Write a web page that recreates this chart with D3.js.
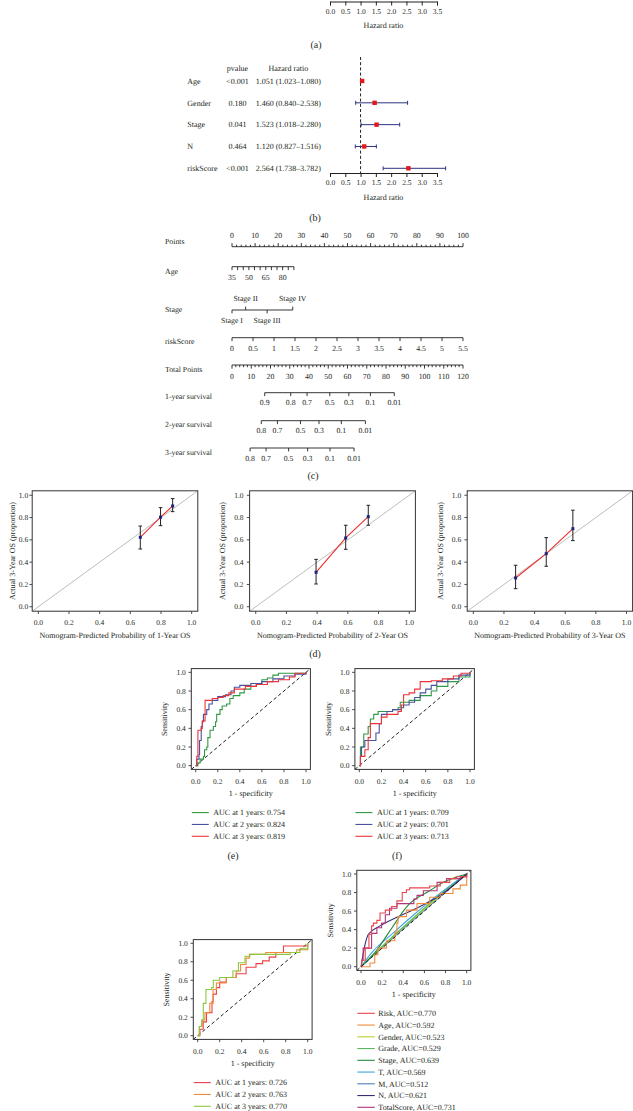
<!DOCTYPE html>
<html><head><meta charset="utf-8">
<script src="https://cdn.jsdelivr.net/npm/d3@7"></script>
<style>
body{margin:0;background:#fff;}
svg{display:block;font-family:"Liberation Serif","DejaVu Serif","Times New Roman",serif;text-rendering:geometricPrecision;-webkit-font-smoothing:antialiased;}
</style></head><body>
<svg id="c" width="633" height="1111"></svg>
<script>
// ---------------- DATA ----------------
const hrTicks = [0, 0.5, 1, 1.5, 2, 2.5, 3, 3.5];
const forestVars = ["Age", "Gender", "Stage", "N", "riskScore"];
const forestP = ["<0.001", "0.180", "0.041", "0.464", "<0.001"];
const forestHR = [1.051, 1.460, 1.523, 1.120, 2.564];
const forestLo = [1.023, 0.840, 1.018, 0.827, 1.738];
const forestHi = [1.080, 2.538, 2.280, 1.516, 3.782];

const pointsTicks = d3.range(0, 101, 10);
const ageTickLabels = [35, 50, 65, 80];
const ageRange = [35, 90];
const agePointsMax = 26.8;
const stageCats = ["Stage I", "Stage II", "Stage III", "Stage IV"];
const stagePoints = [0, 5.9, 15.2, 26.3];
const riskTicks = [0, 0.5, 1, 1.5, 2, 2.5, 3, 3.5, 4, 4.5, 5, 5.5];
const riskMax = 5.5;
const totalTicks = d3.range(0, 121, 10);
const surv1Labels = ["0.9", "0.8", "0.7", "0.5", "0.3", "0.1", "0.01"];
const surv1Total = [17.0, 30.5, 39.0, 50.8, 60.7, 71.9, 84.3];
const surv2Labels = ["0.8", "0.7", "0.5", "0.3", "0.1", "0.01"];
const surv2Total = [15.2, 23.6, 35.6, 45.2, 56.8, 69.3];
const surv3Labels = ["0.8", "0.7", "0.5", "0.3", "0.1", "0.01"];
const surv3Total = [9.4, 17.7, 29.4, 39.3, 50.9, 63.4];

const calTicks = [0, 0.2, 0.4, 0.6, 0.8, 1.0];
const cal1Pred = [0.665, 0.797, 0.876], cal1Obs = [0.623, 0.803, 0.904], cal1Lo = [0.518, 0.727, 0.853], cal1Hi = [0.724, 0.889, 0.970];
const cal2Pred = [0.393, 0.586, 0.733], cal2Obs = [0.309, 0.617, 0.808], cal2Lo = [0.204, 0.515, 0.731], cal2Hi = [0.425, 0.731, 0.910];
const cal3Pred = [0.276, 0.476, 0.650], cal3Obs = [0.258, 0.476, 0.700], cal3Lo = [0.162, 0.363, 0.593], cal3Hi = [0.372, 0.620, 0.866];

// ROC (e)
const rocE1 = [[0,0],[0.02,0.03],[0.04,0.07],[0.07,0.1],[0.08,0.17],[0.1,0.2],[0.11,0.3],[0.13,0.38],[0.16,0.42],[0.18,0.47],[0.19,0.55],[0.22,0.6],[0.24,0.64],[0.28,0.66],[0.31,0.72],[0.34,0.75],[0.4,0.78],[0.44,0.82],[0.5,0.85],[0.55,0.88],[0.6,0.92],[0.65,0.94],[0.7,0.97],[0.75,0.99],[1,1]];
const rocE2 = [[0,0],[0.01,0.07],[0.03,0.12],[0.035,0.27],[0.05,0.42],[0.06,0.47],[0.07,0.55],[0.1,0.6],[0.12,0.66],[0.15,0.7],[0.2,0.74],[0.27,0.76],[0.32,0.8],[0.35,0.84],[0.4,0.86],[0.5,0.88],[0.6,0.9],[0.7,0.93],[0.8,0.96],[0.9,0.98],[1,1]];
const rocE3 = [[0,0],[0.01,0.1],[0.02,0.38],[0.05,0.4],[0.06,0.48],[0.085,0.7],[0.15,0.72],[0.2,0.73],[0.25,0.75],[0.3,0.78],[0.35,0.82],[0.45,0.85],[0.55,0.87],[0.65,0.9],[0.75,0.92],[0.85,0.95],[0.9,0.99],[1,1]];
const rocELabels = ["AUC at 1 years: 0.754", "AUC at 2 years: 0.824", "AUC at 3 years: 0.819"];
// ROC (f)
const rocF1 = [[0,0],[0.01,0.2],[0.04,0.34],[0.08,0.42],[0.1,0.5],[0.13,0.55],[0.17,0.58],[0.3,0.6],[0.35,0.62],[0.37,0.68],[0.45,0.7],[0.55,0.75],[0.65,0.8],[0.7,0.85],[0.8,0.9],[0.9,0.95],[1,1]];
const rocF2 = [[0,0],[0.01,0.1],[0.02,0.2],[0.05,0.27],[0.1,0.27],[0.15,0.35],[0.18,0.45],[0.2,0.55],[0.25,0.58],[0.3,0.6],[0.38,0.62],[0.4,0.65],[0.45,0.68],[0.5,0.73],[0.55,0.78],[0.6,0.82],[0.65,0.86],[0.7,0.9],[0.8,0.93],[0.9,0.97],[1,1]];
const rocF3 = [[0,0],[0.01,0.1],[0.05,0.17],[0.08,0.3],[0.1,0.45],[0.15,0.45],[0.2,0.52],[0.25,0.55],[0.35,0.58],[0.38,0.65],[0.4,0.76],[0.45,0.78],[0.5,0.82],[0.55,0.9],[0.65,0.91],[0.75,0.93],[0.85,0.96],[0.92,0.99],[1,1]];
const rocFLabels = ["AUC at 1 years: 0.709", "AUC at 2 years: 0.701", "AUC at 3 years: 0.713"];
// ROC (g)
const rocG1 = [[0,0],[0.02,0.07],[0.05,0.15],[0.08,0.25],[0.13,0.37],[0.14,0.45],[0.17,0.52],[0.2,0.58],[0.26,0.63],[0.35,0.67],[0.44,0.74],[0.53,0.78],[0.59,0.81],[0.65,0.85],[0.71,0.9],[0.78,0.97],[1,1]];
const rocG2 = [[0,0],[0.015,0.1],[0.04,0.17],[0.066,0.25],[0.11,0.35],[0.14,0.5],[0.17,0.57],[0.26,0.63],[0.35,0.7],[0.39,0.77],[0.44,0.84],[0.47,0.88],[0.62,0.9],[0.78,0.9],[0.9,0.93],[1,1]];
const rocG3 = [[0,0],[0.015,0.1],[0.036,0.17],[0.051,0.35],[0.075,0.5],[0.127,0.52],[0.142,0.6],[0.2,0.63],[0.32,0.7],[0.37,0.79],[0.43,0.86],[0.475,0.88],[0.78,0.88],[0.84,0.9],[0.93,0.94],[1,1]];
const rocGLabels = ["AUC at 1 years: 0.726", "AUC at 2 years: 0.763", "AUC at 3 years: 0.770"];
// ROC (h)
const hNames = ["Risk", "Age", "Gender", "Grade", "Stage", "T", "M", "N", "TotalScore"];
const hAUC = ["0.770", "0.592", "0.523", "0.529", "0.639", "0.569", "0.512", "0.621", "0.731"];
const hRisk = [[0,0],[0.006,0.07],[0.04,0.2],[0.07,0.2],[0.075,0.35],[0.1,0.44],[0.117,0.47],[0.15,0.5],[0.18,0.58],[0.23,0.61],[0.29,0.65],[0.34,0.71],[0.39,0.8],[0.43,0.83],[0.46,0.85],[0.65,0.87],[0.75,0.91],[0.84,0.95],[0.9,0.97],[1,1]];
const hAge = [[0,0],[0.085,0.04],[0.13,0.13],[0.16,0.2],[0.24,0.28],[0.32,0.37],[0.34,0.47],[0.35,0.54],[0.43,0.61],[0.53,0.68],[0.65,0.75],[0.75,0.79],[0.87,0.84],[0.94,0.88],[1,1]];
const hGender = [[0,0],[0.3,0.32],[0.7,0.72],[1,1]];
const hGrade = [[0,0],[0.2,0.22],[0.5,0.53],[0.8,0.83],[1,1]];
const hStage = [[0,0],[0.15,0.18],[0.24,0.33],[0.34,0.5],[0.4,0.6],[0.46,0.68],[0.65,0.82],[0.78,0.91],[1,1]];
const hT = [[0,0],[0.1,0.15],[0.3,0.36],[0.5,0.56],[0.7,0.75],[0.9,0.92],[1,1]];
const hM = [[0,0],[0.5,0.51],[1,1]];
const hN = [[0,0],[0.04,0.25],[0.07,0.35],[0.18,0.44],[0.37,0.55],[0.56,0.65],[0.75,0.77],[1,1]];
const hTotal = [[0,0],[0.006,0.07],[0.02,0.2],[0.085,0.2],[0.1,0.36],[0.15,0.42],[0.195,0.47],[0.23,0.56],[0.27,0.63],[0.34,0.68],[0.43,0.68],[0.5,0.73],[0.53,0.77],[0.59,0.82],[0.72,0.91],[0.81,0.95],[0.94,0.97],[1,1]];

// ---------------- DRAW ----------------
const svg = d3.select("#c");
const INK = "#231f20";
function txt(g, x, y, s, size, anchor) {
  return g.append("text").attr("x", x).attr("y", y).attr("dy", "0.35em")
    .attr("font-size", size).attr("text-anchor", anchor || "start").attr("fill", INK).text(String(s));
}

// ---- Forest plots (a remnant, b) ----
const hrX = d3.scaleLinear().domain([0, 3.5]).range([330, 437]);
function hrAxis(yLine) {
  const g = svg.append("g").attr("transform", `translate(0,${yLine})`);
  const ax = d3.axisBottom(hrX).tickValues(hrTicks).tickFormat(d3.format(".1f")).tickSize(4).tickPadding(3);
  g.call(ax);
  g.attr("font-family", null);
  g.select(".domain").attr("stroke", INK);
  g.selectAll(".tick line").attr("stroke", INK);
  g.selectAll(".tick text").attr("font-size", 7.5).attr("fill", INK);
}
hrAxis(1.5);
txt(svg, 383.5, 25, "Hazard ratio", 8, "middle");
txt(svg, 316, 44, "(a)", 10, "middle");

const rowY = d3.scalePoint().domain(forestVars).range([81, 168.3]);
txt(svg, 237.5, 67.7, "pvalue", 8, "middle");
txt(svg, 288.3, 67.7, "Hazard ratio", 8, "middle");
svg.append("line").attr("x1", hrX(1)).attr("x2", hrX(1)).attr("y1", 57).attr("y2", 173)
  .attr("stroke", INK).attr("stroke-width", 1).attr("stroke-dasharray", "3,2.2");
forestVars.forEach((v, i) => {
  const y = rowY(v);
  txt(svg, 187.3, y, v, 8, "start");
  txt(svg, 237.5, y, forestP[i], 8, "middle");
  txt(svg, 255.7, y, `${forestHR[i].toFixed(3)} (${forestLo[i].toFixed(3)}\u2013${forestHi[i].toFixed(3)})`, 8, "start");
  const g = svg.append("g");
  g.append("line").attr("x1", hrX(forestLo[i])).attr("x2", hrX(forestHi[i])).attr("y1", y).attr("y2", y)
    .attr("stroke", "#2d3480").attr("stroke-width", 1);
  [forestLo[i], forestHi[i]].forEach(b => g.append("line").attr("x1", hrX(b)).attr("x2", hrX(b))
    .attr("y1", y - 2).attr("y2", y + 2).attr("stroke", "#2d3480").attr("stroke-width", 1));
  g.append("rect").attr("x", hrX(forestHR[i]) - 2.2).attr("y", y - 2.2).attr("width", 4.4).attr("height", 4.4).attr("fill", "#e3161b");
});
hrAxis(173);
txt(svg, 383.5, 197, "Hazard ratio", 8, "middle");
txt(svg, 315, 217, "(b)", 10, "middle");

// ---- Nomogram (c) ----
const ptsX = d3.scaleLinear().domain([0, 100]).range([232, 463]);
const totX = d3.scaleLinear().domain([0, 120]).range([232, 463]);
const ageX = d3.scaleLinear().domain(ageRange).range([ptsX(0), ptsX(agePointsMax)]);
const riskX = d3.scaleLinear().domain([0, riskMax]).range([ptsX(0), ptsX(100)]);
const nomo = svg.append("g").attr("stroke", INK).attr("stroke-width", 0.9);
function hline(x1, x2, y) { nomo.append("line").attr("x1", x1).attr("x2", x2).attr("y1", y).attr("y2", y); }
function tick(x, y, len) { nomo.append("line").attr("x1", x).attr("x2", x).attr("y1", y).attr("y2", y + len); }
const NF = 7.8;
const nomoText = svg.append("g");
// Points
txt(nomoText, 165, 241.7, "Points", NF);
hline(ptsX(0), ptsX(100), 246.7);
d3.range(0, 101, 2).forEach(p => tick(ptsX(p), 246.7, p % 10 === 0 ? -3.6 : -2));
pointsTicks.forEach(p => txt(nomoText, ptsX(p), 235.7, p, NF, "middle"));
// Age
txt(nomoText, 165, 271, "Age", NF);
hline(ageX(ageRange[0]), ageX(ageRange[1]), 266.7);
d3.range(ageRange[0], ageRange[1] + 1, 5).forEach(a => tick(ageX(a), 266.7, 3.4));
ageTickLabels.forEach(a => txt(nomoText, ageX(a), 277.5, a, NF, "middle"));
// Stage
txt(nomoText, 165, 309.5, "Stage", NF);
hline(ptsX(stagePoints[0]), ptsX(stagePoints[3]), 310);
stageCats.forEach((s, i) => {
  const up = i % 2 === 1;
  tick(ptsX(stagePoints[i]), 310, up ? -3.4 : 3.4);
  txt(nomoText, ptsX(stagePoints[i]), up ? 298.5 : 320.5, s, NF, "middle");
});
// riskScore
txt(nomoText, 165, 341.7, "riskScore", NF);
hline(riskX(0), riskX(riskMax), 337.7);
riskTicks.forEach(r => tick(riskX(r), 337.7, 3.4));
riskTicks.forEach(r => txt(nomoText, riskX(r), 347.8, r, NF, "middle"));
// Total points
txt(nomoText, 165, 369.3, "Total Points", NF);
hline(totX(0), totX(120), 365);
d3.range(0, 121, 2).forEach(p => tick(totX(p), 365, p % 10 === 0 ? 3.6 : 2.2));
totalTicks.forEach(p => txt(nomoText, totX(p), 375.8, p, NF, "middle"));
// survival
function survAxis(label, labY, lineY, vals, labs) {
  txt(nomoText, 165, labY, label, NF);
  hline(totX(vals[0]), totX(vals[vals.length - 1]), lineY);
  vals.forEach((v, i) => { tick(totX(v), lineY, 3.4); txt(nomoText, totX(v), lineY + 10, labs[i], NF, "middle"); });
}
survAxis("1-year survival", 396.7, 392.7, surv1Total, surv1Labels);
survAxis("2-year survival", 424.7, 420.7, surv2Total, surv2Labels);
survAxis("3-year survival", 452.3, 448, surv3Total, surv3Labels);
txt(svg, 313, 475, "(c)", 10, "middle");

// ---- Framed plot helper ----
function frame(xr, yr, opts) {
  const x = d3.scaleLinear().domain([-0.04, 1.04]).range(xr);
  const y = d3.scaleLinear().domain([-0.04, 1.04]).range(yr);
  const g = svg.append("g");
  const id = "clip" + Math.round(xr[0]) + "_" + Math.round(yr[0]);
  svg.append("clipPath").attr("id", id).append("rect")
    .attr("x", xr[0]).attr("y", yr[1]).attr("width", xr[1] - xr[0]).attr("height", yr[0] - yr[1]);
  const inner = g.append("g").attr("clip-path", `url(#${id})`);
  calTicks.forEach(t => {
    g.append("line").attr("x1", x(t)).attr("x2", x(t)).attr("y1", yr[0]).attr("y2", yr[0] + 2.8).attr("stroke", INK).attr("stroke-width", 0.8);
    txt(g, x(t), yr[0] + 11.5, d3.format(".1f")(t), 7.5, "middle");
    g.append("line").attr("x1", xr[0] - 2.8).attr("x2", xr[0]).attr("y1", y(t)).attr("y2", y(t)).attr("stroke", INK).attr("stroke-width", 0.8);
    txt(g, xr[0] - opts.tickGap, y(t), d3.format(".1f")(t), 7.5, "end");
  });
  txt(g, (xr[0] + xr[1]) / 2, yr[0] + 24, opts.xlab, 8, "middle");
  g.append("text").attr("transform", `translate(${xr[0] - opts.ylabGap},${(yr[0] + yr[1]) / 2}) rotate(-90)`)
    .attr("dy", "0.35em").attr("font-size", 8).attr("text-anchor", "middle").attr("fill", INK).text(opts.ylab);
  return { x, y, g, inner, box: () => g.append("rect").attr("x", xr[0]).attr("y", yr[1]).attr("width", xr[1] - xr[0]).attr("height", yr[0] - yr[1]).attr("fill", "none").attr("stroke", "#333").attr("stroke-width", 1) };
}

// ---- Calibration (d) ----
function calPlot(xr, pred, obs, lo, hi, xlab, tickGap, ylabGap) {
  const f = frame(xr, [611.2, 490.8], { xlab, ylab: "Actual 3-Year OS (proportion)", tickGap, ylabGap });
  f.inner.append("line").attr("x1", f.x(-0.04)).attr("y1", f.y(-0.04)).attr("x2", f.x(1.04)).attr("y2", f.y(1.04))
    .attr("stroke", "#bdbdbd").attr("stroke-width", 1);
  const pts = pred.map((p, i) => [p, obs[i]]);
  f.inner.append("path").attr("d", d3.line().x(d => f.x(d[0])).y(d => f.y(d[1]))(pts))
    .attr("fill", "none").attr("stroke", "#ee2b2b").attr("stroke-width", 1.1);
  pred.forEach((p, i) => {
    const px = f.x(p);
    f.inner.append("line").attr("x1", px).attr("x2", px).attr("y1", f.y(lo[i])).attr("y2", f.y(hi[i])).attr("stroke", "#222").attr("stroke-width", 1);
    [lo[i], hi[i]].forEach(b => f.inner.append("line").attr("x1", px - 1.8).attr("x2", px + 1.8).attr("y1", f.y(b)).attr("y2", f.y(b)).attr("stroke", "#222").attr("stroke-width", 1));
    f.inner.append("rect").attr("x", px - 1.5).attr("y", f.y(obs[i]) - 1.5).attr("width", 3).attr("height", 3).attr("fill", "#1a237e");
  });
  f.box();
}
calPlot([32.2, 197.8], cal1Pred, cal1Obs, cal1Lo, cal1Hi, "Nomogram-Predicted Probability of 1-Year OS", 4, 20);
calPlot([249.6, 415.4], cal2Pred, cal2Obs, cal2Lo, cal2Hi, "Nomogram-Predicted Probability of 2-Year OS", 6, 27);
calPlot([467.2, 632.6], cal3Pred, cal3Obs, cal3Lo, cal3Hi, "Nomogram-Predicted Probability of 3-Year OS", 6, 27);
txt(svg, 315, 653, "(d)", 10, "middle");

// ---- ROC plots ----
function rocPlot(xr, yr, series, colors, labels, steps) {
  const f = frame(xr, yr, { xlab: "1 - specificity", ylab: "Sensitivity", tickGap: 5.5, ylabGap: 27 });
  f.inner.append("line").attr("x1", f.x(-0.04)).attr("y1", f.y(-0.04)).attr("x2", f.x(1.04)).attr("y2", f.y(1.04))
    .attr("stroke", "#222").attr("stroke-width", 1).attr("stroke-dasharray", "3.5,2.5");
  series.forEach((s, i) => {
    const ln = d3.line().x(d => f.x(d[0])).y(d => f.y(d[1])).curve(steps[i] ? d3.curveStepAfter : d3.curveLinear);
    f.inner.append("path").attr("d", ln(s)).attr("fill", "none").attr("stroke", colors[i]).attr("stroke-width", 1.1);
  });
  f.box();
  const ly0 = yr[0] + 43.2, lsp = 11.85;
  labels.forEach((l, i) => {
    svg.append("line").attr("x1", xr[0] + 0.5).attr("x2", xr[0] + 17.5).attr("y1", ly0 + i * lsp).attr("y2", ly0 + i * lsp)
      .attr("stroke", colors[i]).attr("stroke-width", 1.1);
    txt(svg, xr[0] + 22, ly0 + i * lsp, l, 8, "start");
  });
}
rocPlot([191.3, 310.4], [769.4, 668.6], [rocE1, rocE2, rocE3], ["#2f9a44", "#4a529f", "#ee3338"], rocELabels, [1, 1, 1]);
rocPlot([354.9, 474.4], [769.4, 668.6], [rocF1, rocF2, rocF3], ["#2f9a44", "#4a529f", "#ee3338"], rocFLabels, [1, 1, 1]);
txt(svg, 233, 855, "(e)", 10, "middle");
txt(svg, 397, 855, "(f)", 10, "middle");
rocPlot([193.3, 312.1], [1039.4, 939.6], [rocG1, rocG2, rocG3], ["#ec4045", "#f18a3b", "#8cc63f"], rocGLabels, [1, 1, 1]);
const hSeries = [hRisk, hAge, hGender, hGrade, hStage, hT, hM, hN, hTotal];
const hColors = ["#e8474c", "#f08c3c", "#b7d334", "#5cb85c", "#1f8a3b", "#3aa6e0", "#4a7fb5", "#3b2d78", "#b0357a"];
const hSteps = [1, 1, 0, 0, 0, 0, 0, 0, 1];
const order = [6, 2, 3, 5, 7, 4, 1, 8, 0];
(function () {
  const xr = [356.8, 470.9], yr = [970.4, 870.3];
  const f = frame(xr, yr, { xlab: "1 - specificity", ylab: "Sensitivity", tickGap: 5.5, ylabGap: 27 });
  order.forEach(i => {
    const ln = d3.line().x(d => f.x(d[0])).y(d => f.y(d[1])).curve(hSteps[i] ? d3.curveStepAfter : d3.curveMonotoneX);
    f.inner.append("path").attr("d", ln(hSeries[i])).attr("fill", "none").attr("stroke", hColors[i]).attr("stroke-width", 1.1);
  });
  f.inner.append("line").attr("x1", f.x(-0.04)).attr("y1", f.y(-0.04)).attr("x2", f.x(1.04)).attr("y2", f.y(1.04))
    .attr("stroke", "#222").attr("stroke-width", 1).attr("stroke-dasharray", "3.5,2.5");
  f.box();
  const ly0 = yr[0] + 42.9, lsp = 11.75;
  hNames.forEach((n, i) => {
    svg.append("line").attr("x1", xr[0] + 0.5).attr("x2", xr[0] + 18).attr("y1", ly0 + i * lsp).attr("y2", ly0 + i * lsp)
      .attr("stroke", hColors[i]).attr("stroke-width", 1.1);
    txt(svg, xr[0] + 21.5, ly0 + i * lsp, `${n}, AUC=${hAUC[i]}`, 8, "start");
  });
})();
</script>
</body></html>
